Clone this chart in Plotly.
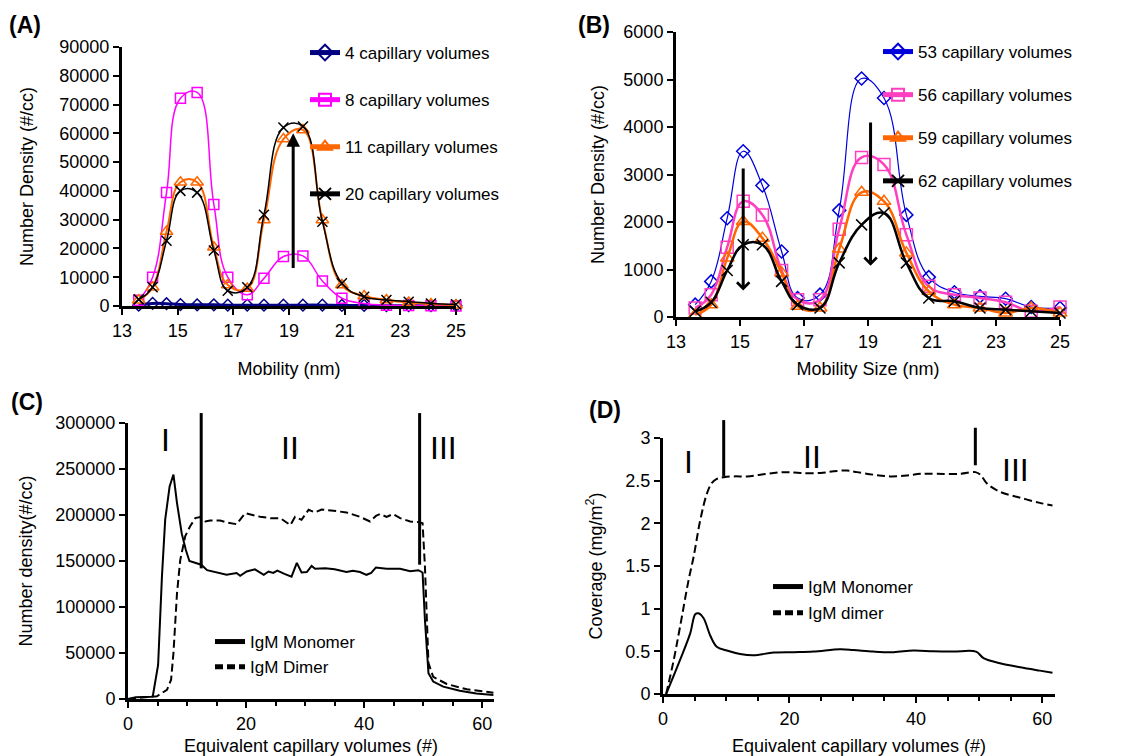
import plotly.graph_objects as go

# ---------------- data ----------------
bins = [13.6, 14.1, 14.6, 15.1, 15.7, 16.3, 16.8, 17.5, 18.1, 18.8, 19.5, 20.2, 20.9, 21.7, 22.5, 23.3, 24.1, 25.0]

a_names = ["4 capillary volumes", "8 capillary volumes", "11 capillary volumes", "20 capillary volumes"]
a_cv4 = [300, 900, 800, 500, 400, 400, 300, 300, 300, 300, 300, 300, 200, 200, 100, 100, 100, 100]
a_cv8 = [2000, 10000, 39400, 72200, 74200, 35300, 10000, 3900, 9600, 17200, 17400, 8700, 2700, 900, 300, 200, 100, 0]
a_cv11 = [2000, 6500, 25900, 43000, 43000, 20400, 7300, 6100, 29900, 58000, 61200, 29900, 7300, 3500, 2100, 1200, 700, 300]
a_cv20 = [2300, 6500, 22700, 40000, 39400, 19300, 5300, 6500, 31700, 62000, 62400, 29300, 7900, 3200, 2100, 1500, 900, 600]

b_names = ["53 capillary volumes", "56 capillary volumes", "59 capillary volumes", "62 capillary volumes"]
b_cv53 = [260, 750, 2080, 3490, 2770, 1380, 400, 470, 2245, 5020, 4610, 2150, 840, 520, 435, 385, 210, 190]
b_cv56 = [190, 470, 1470, 2435, 2150, 980, 365, 365, 1850, 3360, 3210, 1730, 645, 470, 400, 310, 120, 210]
b_cv59 = [50, 260, 1240, 2010, 1660, 930, 225, 190, 1430, 2625, 2435, 1350, 540, 260, 190, 85, 190, 85]
b_cv62 = [120, 310, 980, 1520, 1520, 750, 260, 190, 1140, 1940, 2190, 1140, 400, 330, 190, 155, 120, 85]

c_mono_x = [0, 1.3, 4.0, 4.2, 5.1, 5.75, 6.3, 7.05, 7.7, 8.3, 9.1, 9.8, 10.4, 11.4, 12.4, 13.4, 15.1, 16.7, 18.4, 19.0,
            20.1, 21.5, 23.0, 23.8, 24.6, 25.3, 26.5, 27.7, 28.6, 29.4, 30.3, 31.1, 31.7, 33.4, 35.0, 37.0, 38.1,
            39.3, 40.4, 41.2, 42.0, 43.8, 46.1, 47.8, 49.2, 49.9, 50.3, 50.9, 51.7, 53.4, 56.2, 59.0, 61.9]
c_mono_y = [0, 2000, 2500, 3000, 37000, 133000, 195000, 231000, 244000, 213000, 180000, 162000, 150000, 148000,
            146000, 140000, 137000, 135000, 137000, 134000, 138600, 141000, 135000, 138600, 137000, 139500, 136000,
            133000, 148000, 137500, 138000, 144700, 141500, 142000, 141000, 138000, 139500, 138000, 135000, 137000,
            143000, 141500, 141500, 139000, 140000, 137500, 86000, 28000, 19000, 13400, 9000, 6000, 4300]

c_dim_x = [0, 4.0, 4.9, 6.6, 7.3, 7.7, 8.3, 8.85, 9.7, 10.5, 11.4, 12.2, 13.1, 13.9, 15.6, 16.7, 18.4, 19.85, 21.3,
           22.4, 24.1, 25.8, 27.5, 28.3, 29.4, 30.6, 31.7, 32.8, 34.8, 37.0, 39.3, 41.0, 42.0, 42.7, 43.8, 44.9,
           46.1, 47.8, 49.5, 49.9, 50.3, 50.9, 51.7, 54.0, 57.4, 61.9]
c_dim_y = [0, 2000, 3000, 10000, 21000, 50000, 115000, 151000, 177000, 187500, 196600, 197700, 193000, 194000,
           194000, 192000, 190000, 202000, 200000, 198000, 196600, 196600, 189000, 198000, 194800, 205700, 202800,
           206000, 204600, 202800, 198000, 193000, 199000, 201000, 198000, 201000, 196600, 193000, 192000, 191000,
           144000, 39000, 24000, 16300, 10500, 6900]

d_mono_x = [0.5, 2.7, 4.3, 5.1, 5.6, 6.4, 7.5, 8.5, 10.1, 12.2, 14.3, 17.5, 20.7, 23.8, 28.0, 30.1, 33.3, 36.5,
            39.6, 42.8, 45.9, 49.5, 50.7, 53.3, 56.5, 59.6, 61.6]
d_mono_y = [0, 0.40, 0.71, 0.935, 0.946, 0.89, 0.68, 0.555, 0.51, 0.47, 0.455, 0.485, 0.49, 0.497, 0.524, 0.516,
            0.497, 0.49, 0.51, 0.50, 0.497, 0.497, 0.42, 0.36, 0.313, 0.274, 0.25]

d_dim_x = [0.5, 1.7, 2.7, 4.06, 4.85, 5.9, 6.95, 7.7, 8.5, 9.6, 11.2, 13.3, 15.4, 17.5, 19.6, 21.7, 24.9, 27.0,
           29.1, 30.7, 33.3, 35.9, 38.6, 40.7, 43.3, 47.0, 49.4, 50.2, 51.2, 53.3, 56.5, 59.6, 61.6]
d_dim_y = [0, 0.40, 0.79, 1.34, 1.61, 2.04, 2.35, 2.47, 2.52, 2.54, 2.55, 2.55, 2.57, 2.59, 2.60, 2.59, 2.59, 2.61,
           2.62, 2.60, 2.57, 2.55, 2.56, 2.58, 2.58, 2.58, 2.60, 2.57, 2.47, 2.37, 2.30, 2.24, 2.21]

cd_names = ["IgM Monomer", "IgM Dimer", "IgM dimer"]

# phase boundaries (x, lower end of line) and arrows
c_bounds = [(12.4, 142000), (49.4, 146000)]
d_bounds = [(9.6, 2.55), (49.4, 2.68)]
a_arrow = (19.15, 12300, 60000)
b_arrows = [(15.1, 3180, 560), (19.08, 4150, 1080)]

A_YMAX, B_YMAX, C_YMAX, D_YMAX = 90000, 6000, 300000, 3

# ---------------- styling ----------------
FONT = "Liberation Sans, Arial, sans-serif"
W, H = 1121, 756

def px_dom(a, b, total):
    return [a / total, b / total]

def py_dom(top, bottom):
    return [1 - bottom / H, 1 - top / H]

fig = go.Figure()

def add(xs, ys, name, color, width, xa, ya, legend, group, symbol=None, size=10, dash=None, shape="spline",
        smoothing=1.0):
    mode = "lines+markers" if symbol else "lines"
    marker = None
    if symbol:
        marker = dict(symbol=symbol, size=size, color=color, line=dict(width=1.5, color=color))
    line = dict(color=color, width=width, shape=shape, dash=dash)
    if shape == "spline":
        line["smoothing"] = smoothing
    fig.add_trace(go.Scatter(
        x=xs, y=ys, name=name, mode=mode, xaxis=xa, yaxis=ya, line=line,
        marker=marker, legend=legend, legendgroup=group, cliponaxis=False, showlegend=True))

SM = 1.2
# Panel A
add(bins, a_cv4, a_names[0], "#000080", 3, "x", "y", "legend", "a1", "diamond-open", 9, smoothing=SM)
add(bins, a_cv8, a_names[1], "#FF00FF", 1.5, "x", "y", "legend", "a2", "square-open", 10, smoothing=SM)
add(bins, a_cv11, a_names[2], "#FF6600", 2, "x", "y", "legend", "a3", "triangle-up-open", 11, smoothing=SM)
add(bins, a_cv20, a_names[3], "#000000", 1.5, "x", "y", "legend", "a4", "x-thin-open", 10, smoothing=SM)

# Panel B
add(bins, b_cv53, b_names[0], "#0000DD", 1.2, "x2", "y2", "legend2", "b1", "diamond-open", 10, smoothing=SM)
add(bins, b_cv56, b_names[1], "#FF3FBF", 2.5, "x2", "y2", "legend2", "b2", "square-open", 12, smoothing=SM)
add(bins, b_cv59, b_names[2], "#FF6600", 2.5, "x2", "y2", "legend2", "b3", "triangle-up-open", 12, smoothing=SM)
add(bins, b_cv62, b_names[3], "#000000", 2.5, "x2", "y2", "legend2", "b4", "x-thin-open", 11, smoothing=SM)

# Panel C
add(c_mono_x, c_mono_y, cd_names[0], "#000000", 2, "x3", "y3", "legend3", "c1", shape="linear")
add(c_dim_x, c_dim_y, cd_names[1], "#000000", 2, "x3", "y3", "legend3", "c2", dash="8px,4px", shape="linear")

# Panel D
add(d_mono_x, d_mono_y, cd_names[0], "#000000", 2, "x4", "y4", "legend4", "d1", shape="spline")
add(d_dim_x, d_dim_y, cd_names[2], "#000000", 2, "x4", "y4", "legend4", "d2", dash="8px,4px", shape="spline")

axis_common = dict(showline=True, linewidth=3, linecolor="black", ticks="outside", ticklen=6, tickwidth=2,
                   tickcolor="black", showgrid=False, zeroline=False, automargin=False,
                   tickfont=dict(family=FONT, size=18, color="black"))
title_font = dict(family=FONT, size=18, color="black")

layout = dict(
    width=W, height=H, margin=dict(l=0, r=0, t=0, b=0, autoexpand=False),
    paper_bgcolor="white", plot_bgcolor="white", font=dict(family=FONT, color="black"),
    xaxis=dict(domain=px_dom(122, 456, W), range=[13, 25], dtick=2, tick0=13, anchor="y",
               title=dict(text="Mobility (nm)", font=title_font, standoff=23), **axis_common),
    yaxis=dict(domain=py_dom(47, 306), range=[0, A_YMAX], dtick=10000, anchor="x", tickformat="d",
               title=dict(text="Number Density (#/cc)", font=title_font, standoff=22), **axis_common),
    xaxis2=dict(domain=px_dom(676, 1060, W), range=[13, 25], dtick=2, tick0=13, anchor="y2",
                title=dict(text="Mobility Size (nm)", font=title_font, standoff=12), **axis_common),
    yaxis2=dict(domain=py_dom(32, 317), range=[0, B_YMAX], dtick=1000, anchor="x2", tickformat="d",
                title=dict(text="Number Density (#/cc)", font=title_font, standoff=15), **axis_common),
    xaxis3=dict(domain=px_dom(128, 494, W), range=[0, 62], dtick=20, anchor="y3",
                minor=dict(dtick=5, ticks="outside", ticklen=4, tickwidth=2, tickcolor="black"),
                title=dict(text="Equivalent capillary volumes (#)", font=title_font, standoff=10), **axis_common),
    yaxis3=dict(domain=py_dom(423, 699), range=[0, C_YMAX], dtick=50000, anchor="x3", tickformat="d",
                title=dict(text="Number density(#/cc)", font=title_font, standoff=19), **axis_common),
    xaxis4=dict(domain=px_dom(663, 1055, W), range=[0, 62], dtick=20, anchor="y4",
                minor=dict(dtick=5, ticks="outside", ticklen=4, tickwidth=2, tickcolor="black"),
                title=dict(text="Equivalent capillary volumes (#)", font=title_font, standoff=12), **axis_common),
    yaxis4=dict(domain=py_dom(438, 694), range=[0, D_YMAX], dtick=0.5, anchor="x4",
                title=dict(text="Coverage (mg/m<sup>2</sup>)", font=title_font, standoff=19), **axis_common),
)

leg_common = dict(font=dict(family=FONT, size=17, color="black"), bgcolor="rgba(0,0,0,0)",
                  xanchor="left", yanchor="top", traceorder="grouped", itemsizing="constant")
layout["legend"] = dict(x=305 / W, y=1 - 35 / H, tracegroupgap=22, **leg_common)
layout["legend2"] = dict(x=878 / W, y=1 - 34 / H, tracegroupgap=18, **leg_common)
layout["legend3"] = dict(x=210 / W, y=1 - 624 / H, tracegroupgap=0, **leg_common)
layout["legend4"] = dict(x=768 / W, y=1 - 569 / H, tracegroupgap=1, **leg_common)
fig.update_layout(**layout)

ann = []
# panel labels
for lbl, x, y in [("(A)", 7, 25), ("(B)", 576, 25), ("(C)", 9, 402), ("(D)", 587, 410)]:
    ann.append(dict(text="<b>%s</b>" % lbl, x=x / W, y=1 - y / H, xref="paper", yref="paper",
                    xanchor="left", yanchor="middle", showarrow=False,
                    font=dict(family=FONT, size=23, color="black")))
# roman numerals
roman_font = dict(family=FONT, size=32, color="black")
for t, x, y in [("I", 6.3, 281000), ("II", 27.5, 273000), ("III", 53.4, 273000)]:
    ann.append(dict(text=t, x=x, y=y, xref="x3", yref="y3", showarrow=False, font=roman_font))
for t, x, y in [("I", 4.1, 2.72), ("II", 23.6, 2.78), ("III", 55.7, 2.63)]:
    ann.append(dict(text=t, x=x, y=y, xref="x4", yref="y4", showarrow=False, font=roman_font))
# arrows
ax_, y0, y1 = a_arrow
ann.append(dict(text=" ", x=ax_, y=y1, ax=ax_, ay=y0, xref="x", yref="y", axref="x", ayref="y",
                showarrow=True, arrowhead=2, arrowwidth=3, arrowsize=0.9, arrowcolor="black", standoff=0,
                font=dict(size=2)))
for bx, by0, by1 in b_arrows:
    ann.append(dict(text=" ", x=bx, y=by1, ax=bx, ay=by0, xref="x2", yref="y2", axref="x2", ayref="y2",
                    showarrow=True, arrowhead=4, arrowwidth=3, arrowsize=0.8, arrowcolor="black", standoff=0,
                    font=dict(size=2)))
fig.update_layout(annotations=ann)

shapes = []
for bx, by in c_bounds:
    shapes.append(dict(type="line", xref="x3", yref="y3 domain", x0=bx, x1=bx, y0=by / C_YMAX, y1=1.036,
                       line=dict(color="black", width=3)))
for bx, by in d_bounds:
    shapes.append(dict(type="line", xref="x4", yref="y4 domain", x0=bx, x1=bx, y0=by / D_YMAX,
                       y1=1.07 if bx < 20 else 1.04, line=dict(color="black", width=3)))
fig.update_layout(shapes=shapes)

fig.write_html("out.html", config={"displayModeBar": False},
               post_script="document.body.style.margin='0px';")
